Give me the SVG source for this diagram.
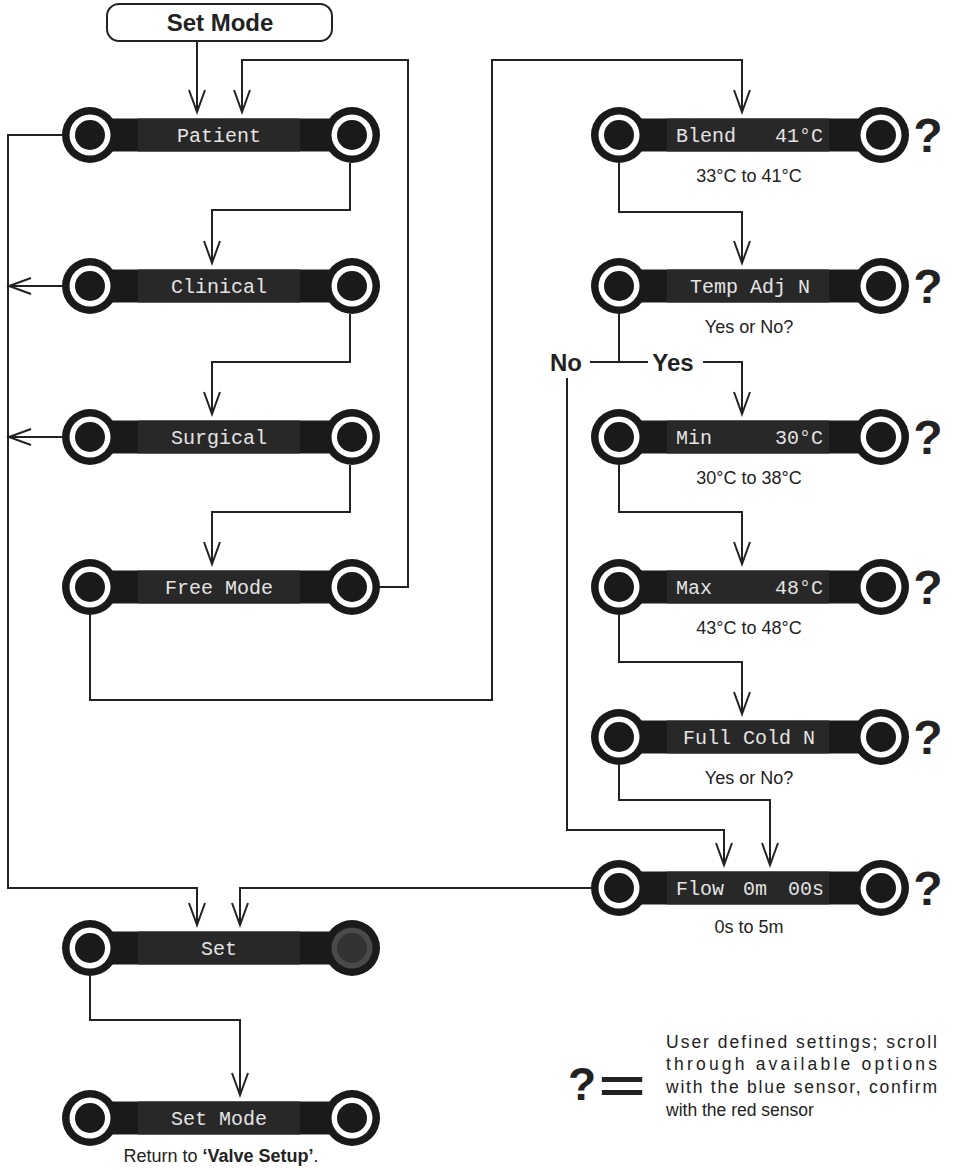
<svg xmlns="http://www.w3.org/2000/svg" xmlns:xlink="http://www.w3.org/1999/xlink" width="955" height="1170" viewBox="0 0 955 1170">
<style>
.ln{fill:none;stroke:#222;stroke-width:2}
.lcd{font-family:"Liberation Mono","DejaVu Sans Mono",monospace;font-size:20px;fill:#e4e4e4}
.sub{font-family:"Liberation Sans",Arial,sans-serif;font-size:18px;fill:#222;text-anchor:middle}
.q{font-family:"Liberation Sans",Arial,sans-serif;font-size:48px;font-weight:bold;fill:#222;text-anchor:middle}
.bold{font-family:"Liberation Sans",Arial,sans-serif;font-weight:bold;fill:#222}
.txt{font-family:"Liberation Sans",Arial,sans-serif;font-size:17.5px;fill:#222}
</style>
<defs>
<marker id="arr" markerUnits="userSpaceOnUse" viewBox="-24 -10 27 20" refX="0" refY="0" markerWidth="27" markerHeight="20" orient="auto">
<path d="M-22,-8 L0,0 L-22,8" fill="none" stroke="#222" stroke-width="2"/>
</marker>
<g id="node">
<rect x="0" y="-16.5" width="262" height="33" fill="#1a1a1a"/>
<rect x="48" y="-16.5" width="162" height="33" fill="#282828"/>
<circle cx="0" cy="0" r="28" fill="#1a1a1a"/>
<circle cx="0" cy="0" r="20.5" fill="#fff"/>
<circle cx="0" cy="0" r="15" fill="#1a1a1a"/>
<circle cx="262" cy="0" r="28" fill="#1a1a1a"/>
<circle cx="262" cy="0" r="20.5" fill="#fff"/>
<circle cx="262" cy="0" r="15" fill="#1a1a1a"/>
</g>
<g id="nodeSet">
<rect x="0" y="-16.5" width="262" height="33" fill="#1a1a1a"/>
<rect x="48" y="-16.5" width="162" height="33" fill="#282828"/>
<circle cx="0" cy="0" r="28" fill="#1a1a1a"/>
<circle cx="0" cy="0" r="20.5" fill="#fff"/>
<circle cx="0" cy="0" r="15" fill="#1a1a1a"/>
<circle cx="262" cy="0" r="28" fill="#1a1a1a"/>
<circle cx="262" cy="0" r="20.5" fill="#4a4a4a"/>
<circle cx="262" cy="0" r="15" fill="#333"/>
</g>
</defs>
<rect width="955" height="1170" fill="#fff"/>

<g id="connectors">
<path class="ln" marker-end="url(#arr)" d="M197,41 V112"/>
<path class="ln" marker-end="url(#arr)" d="M378,587 H408 V60 H242 V112"/>
<path class="ln" marker-end="url(#arr)" d="M350,163 V210 H212 V263"/>
<path class="ln" marker-end="url(#arr)" d="M350,314 V362 H212 V414"/>
<path class="ln" marker-end="url(#arr)" d="M350,465 V512 H212 V564"/>
<path class="ln" marker-end="url(#arr)" d="M90,615 V700 H492 V60 H742 V112"/>
<path class="ln" marker-end="url(#arr)" d="M62,135 H8 V888 H197 V925"/>
<path class="ln" marker-end="url(#arr)" d="M62,286 H9"/>
<path class="ln" marker-end="url(#arr)" d="M62,437 H9"/>
<path class="ln" marker-end="url(#arr)" d="M619,163 V212 H742 V263"/>
<path class="ln" d="M619,314 V362"/>
<path class="ln" d="M590,362 H648"/>
<path class="ln" marker-end="url(#arr)" d="M703,362 H742 V414"/>
<path class="ln" marker-end="url(#arr)" d="M567,378 V830 H724 V865"/>
<path class="ln" marker-end="url(#arr)" d="M619,465 V512 H742 V564"/>
<path class="ln" marker-end="url(#arr)" d="M619,615 V662 H742 V714"/>
<path class="ln" marker-end="url(#arr)" d="M619,765 V800 H770 V865"/>
<path class="ln" marker-end="url(#arr)" d="M591,888 H240 V925"/>
<path class="ln" marker-end="url(#arr)" d="M90,976 V1020 H240 V1095"/>
<text class="bold" x="566" y="371" font-size="24" text-anchor="middle">No</text>
<text class="bold" x="673" y="371" font-size="24" text-anchor="middle">Yes</text>
</g>

<g id="start">
<rect x="107" y="4" width="225" height="37" rx="12" fill="#fff" stroke="#222" stroke-width="2"/>
<text class="bold" x="220" y="31" font-size="24" text-anchor="middle">Set Mode</text>
</g>

<g id="patient"><use xlink:href="#node" x="90" y="135"/><text class="lcd" x="219" y="142" text-anchor="middle">Patient</text></g>
<g id="clinical"><use xlink:href="#node" x="90" y="286"/><text class="lcd" x="219" y="293" text-anchor="middle">Clinical</text></g>
<g id="surgical"><use xlink:href="#node" x="90" y="437"/><text class="lcd" x="219" y="444" text-anchor="middle">Surgical</text></g>
<g id="freemode"><use xlink:href="#node" x="90" y="587"/><text class="lcd" x="219" y="594" text-anchor="middle">Free Mode</text></g>
<g id="set"><use xlink:href="#nodeSet" x="90" y="948"/><text class="lcd" x="219" y="955" text-anchor="middle">Set</text></g>
<g id="setmode"><use xlink:href="#node" x="90" y="1118"/><text class="lcd" x="219" y="1125" text-anchor="middle">Set Mode</text>
<text class="sub" x="221" y="1162">Return to <tspan font-weight="bold">‘Valve Setup’</tspan>.</text></g>

<g id="blend"><use xlink:href="#node" x="619" y="135"/><text class="lcd" x="676" y="142">Blend</text><text class="lcd" x="823" y="142" text-anchor="end">41°C</text>
<text class="q" x="928" y="152">?</text><text class="sub" x="749" y="182">33°C to 41°C</text></g>
<g id="tempadj"><use xlink:href="#node" x="619" y="286"/><text class="lcd" x="750" y="293" text-anchor="middle">Temp Adj N</text>
<text class="q" x="928" y="303">?</text><text class="sub" x="749" y="333">Yes or No?</text></g>
<g id="min"><use xlink:href="#node" x="619" y="437"/><text class="lcd" x="676" y="444">Min</text><text class="lcd" x="823" y="444" text-anchor="end">30°C</text>
<text class="q" x="928" y="454">?</text><text class="sub" x="749" y="484">30°C to 38°C</text></g>
<g id="max"><use xlink:href="#node" x="619" y="587"/><text class="lcd" x="676" y="594">Max</text><text class="lcd" x="823" y="594" text-anchor="end">48°C</text>
<text class="q" x="928" y="604">?</text><text class="sub" x="749" y="634">43°C to 48°C</text></g>
<g id="fullcold"><use xlink:href="#node" x="619" y="737"/><text class="lcd" x="749" y="744" text-anchor="middle">Full Cold N</text>
<text class="q" x="928" y="754">?</text><text class="sub" x="749" y="784">Yes or No?</text></g>
<g id="flow"><use xlink:href="#node" x="619" y="888"/><text class="lcd" y="895"><tspan x="676">Flow</tspan><tspan x="743">0m</tspan><tspan x="788">00s</tspan></text>
<text class="q" x="928" y="905">?</text><text class="sub" x="749" y="933">0s to 5m</text></g>

<g id="legend">
<text class="bold" x="582" y="1100" font-size="46" text-anchor="middle">?</text>
<text class="bold" font-size="46" text-anchor="middle" transform="translate(622,1102) scale(1.75,1)">=</text>
<text class="txt" x="666" y="1048" textLength="271" lengthAdjust="spacing">User defined settings; scroll</text>
<text class="txt" x="666" y="1070" textLength="271" lengthAdjust="spacing">through available options</text>
<text class="txt" x="666" y="1093" textLength="271" lengthAdjust="spacing">with the blue sensor, confirm</text>
<text class="txt" x="666" y="1116">with the red sensor</text>
</g>
</svg>
